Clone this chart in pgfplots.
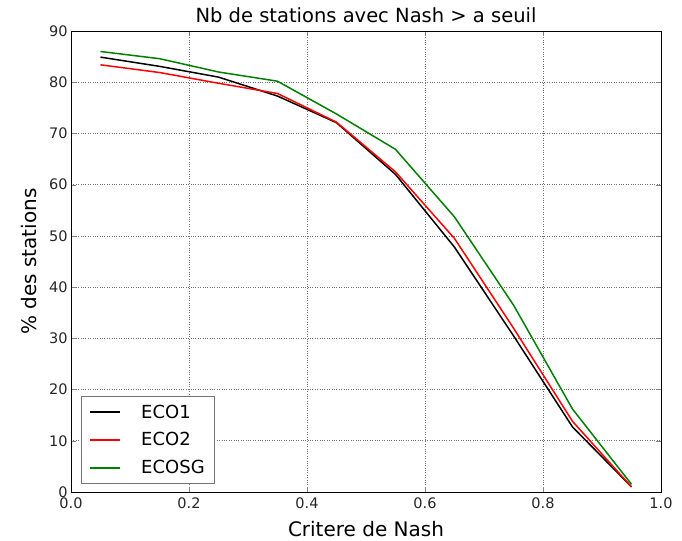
\documentclass[border=0pt]{standalone}
\usepackage{pgfplots}
\pgfplotsset{compat=1.18}
\usepackage{fontspec}
\setmainfont{DejaVu Sans}
\definecolor{mplgreen}{RGB}{0,128,0}
\begin{document}
\begin{tikzpicture}
\begin{axis}[
  scale only axis,
  width=590bp, height=461bp,
  xmin=0, xmax=1, ymin=0, ymax=90,
  xtick={0,0.2,0.4,0.6,0.8,1.0},
  xticklabels={0.0,0.2,0.4,0.6,0.8,1.0},
  ytick={0,10,...,90},
  /pgf/number format/assume math mode=true,
  tick label style={font=\fontsize{14.5bp}{17bp}\selectfont, color=black!85},
  xticklabel style={yshift=-2bp},
  tick align=inside,
  major tick length=5bp,
  xtick pos=both, ytick pos=both,
  grid=major,
  grid style={black!55, dotted, line width=0.6pt},
  axis line style={black, line width=0.8pt},
  title={Nb de stations avec Nash > a seuil},
  title style={font=\fontsize{19.5bp}{22bp}\selectfont, yshift=-1bp},
  xlabel={Critere de Nash},
  ylabel={\% des stations},
  xlabel style={font=\fontsize{20bp}{24bp}\selectfont, yshift=-6bp},
  ylabel style={font=\fontsize{20bp}{24bp}\selectfont, yshift=5bp},
  legend style={font=\fontsize{18bp}{21bp}\selectfont, draw=black!55, line width=0.9pt,
    at={(0.017,0.018)}, anchor=south west, row sep=9bp, inner xsep=8bp, inner ysep=6bp},
  legend cell align=left,
  legend image code/.code={\draw[#1, line width=2pt] (0bp,0bp) -- (30bp,0bp); \path (48bp,0bp);},
]
\addplot[color=black, line width=1.5pt, line join=round] coordinates {
(0.05,84.9) (0.15,83.1) (0.25,81.0) (0.35,77.3) (0.45,72.1) (0.55,62.0)
(0.65,47.8) (0.75,30.5) (0.85,12.7) (0.95,1.0)};
\addlegendentry{ECO1}
\addplot[color=red, line width=1.5pt, line join=round] coordinates {
(0.05,83.4) (0.15,81.9) (0.25,79.8) (0.35,77.8) (0.45,72.2) (0.55,62.5)
(0.65,49.5) (0.75,32.0) (0.85,13.8) (0.95,1.0)};
\addlegendentry{ECO2}
\addplot[color=mplgreen, line width=1.5pt, line join=round] coordinates {
(0.05,86.0) (0.15,84.6) (0.25,82.0) (0.35,80.2) (0.45,73.8) (0.55,66.9)
(0.65,53.7) (0.75,36.5) (0.85,16.2) (0.95,1.5)};
\addlegendentry{ECOSG}
\end{axis}
\pgfresetboundingbox
\path[use as bounding box] (-71bp,-49bp) rectangle (611bp,492bp);
\end{tikzpicture}
\end{document}
